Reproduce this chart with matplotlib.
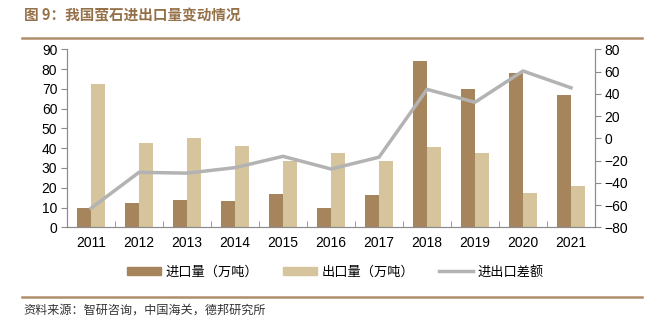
import numpy as np
import matplotlib
matplotlib.use('Agg')
from matplotlib import pyplot as plt
from matplotlib.lines import Line2D
from matplotlib.patches import Patch

plt.rcParams['font.family'] = ['Liberation Sans', 'Noto Sans CJK SC', 'DejaVu Sans']

years = ['2011', '2012', '2013', '2014', '2015', '2016', '2017', '2018', '2019', '2020', '2021']
imports = [9.6, 12.3, 13.8, 13.3, 16.7, 9.8, 16.2, 84.1, 69.8, 78.0, 66.9]
exports = [72.4, 42.8, 45.3, 41.1, 33.7, 37.4, 33.7, 40.4, 37.4, 17.5, 21.0]
balance = [-62.9, -30.6, -31.3, -26.4, -16.2, -27.6, -17.0, 44.0, 32.4, 60.5, 45.4]

c_imp = '#A6845C'
c_exp = '#D6C59C'
c_line = '#B3B3B3'
c_brown = '#95714A'
c_axis = '#8C8C8C'

fig = plt.figure(figsize=(6.55, 3.26), dpi=100)
ax = fig.add_axes([67 / 655, 1 - 227.3 / 326, 528 / 655, 178 / 326])
ax2 = ax.twinx()

x = np.arange(len(years))
w = 0.29
ax.bar(x - w / 2, imports, w, color=c_imp, zorder=2)
ax.bar(x + w / 2, exports, w, color=c_exp, zorder=2)
ax2.plot(x, balance, color=c_line, lw=2.5, zorder=3)

ax.set_xlim(-0.5, len(years) - 0.5)
ax.set_ylim(0, 90)
ax.set_yticks(range(0, 91, 10))
ax2.set_ylim(-80, 80)
ax2.set_yticks(range(-80, 81, 20))

ax.set_xticks(x)
ax.set_xticklabels(years)
ax.set_xticks(np.arange(-0.5, len(years), 1), minor=True)
ax.tick_params(axis='x', which='major', length=0, pad=6, labelsize=10)
ax.tick_params(axis='x', which='minor', length=4, direction='in', color=c_axis)
ax.tick_params(axis='y', length=4, direction='out', color=c_axis, labelsize=10, pad=3)
ax2.tick_params(axis='y', length=4, direction='out', color=c_axis, labelsize=10, pad=3)

for a in (ax, ax2):
    a.spines['top'].set_visible(False)
    for s in ('left', 'right', 'bottom'):
        a.spines[s].set_color(c_axis)
        a.spines[s].set_linewidth(0.8)
ax2.set_zorder(ax.get_zorder() + 1)
ax.patch.set_visible(False)

handles = [Patch(color=c_imp), Patch(color=c_exp), Line2D([], [], color=c_line, lw=2.5)]
labels = ['进口量（万吨）', '出口量（万吨）', '进出口差额']
fig.legend(handles, labels, loc='center', bbox_to_anchor=(0.512, 1 - 272 / 326), ncol=3,
           frameon=False, prop={'family': ['Noto Sans CJK SC'], 'size': 9.5},
           handlelength=2.6, handleheight=0.5, columnspacing=1.9, handletextpad=0.3)

fig.text(24 / 655, 1 - 15 / 326, '图 9：我国萤石进出口量变动情况', color=c_brown,
         fontsize=10.5, fontweight='bold', family=['Noto Sans CJK SC'], va='center')
fig.add_artist(Line2D([22 / 655, 642 / 655], [1 - 38 / 326] * 2, color='#B08E6B', lw=1.8))
fig.add_artist(Line2D([22 / 655, 642 / 655], [1 - 296.5 / 326] * 2, color='#B08E6B', lw=1.8))
fig.text(23 / 655, 1 - 310 / 326, '资料来源：智研咨询，中国海关，德邦研究所', color='#333333',
         fontsize=8.7, family=['Noto Sans CJK SC'], va='center')

fig.savefig('out.png', dpi=100)
